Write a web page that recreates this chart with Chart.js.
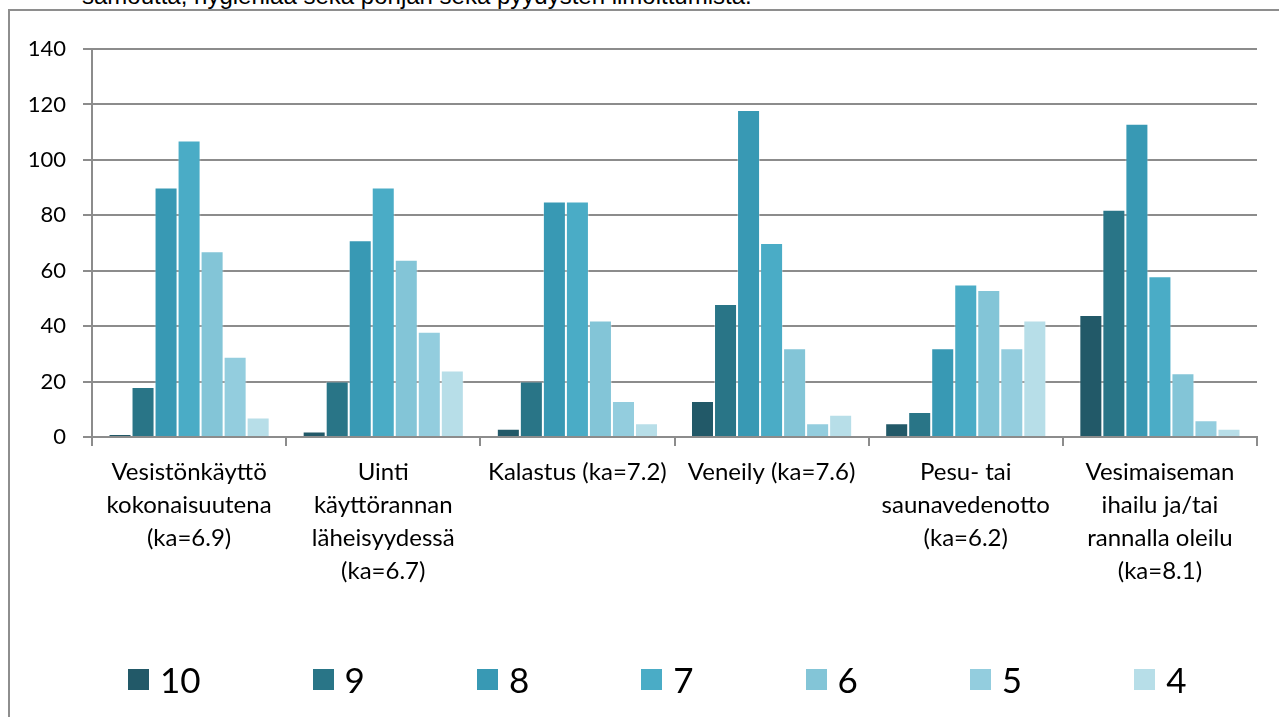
<!DOCTYPE html>
<html>
<head>
<meta charset="utf-8">
<script src="https://cdn.jsdelivr.net/npm/chart.js@4"></script>
<style>
  html, body { margin: 0; padding: 0; background: #fff; overflow: hidden; }
  body { width: 1279px; height: 717px; position: relative; }
  #caption {
    position: absolute; left: 82px; top: -16px;
    font-family: 'Liberation Sans', Arial, sans-serif; font-size: 24px; line-height: 24px;
    color: #000; white-space: nowrap;
  }
  #frame {
    position: absolute; left: 8px; top: 9px;
    width: 1275px; height: 720px;
    border: 2px solid #8e8e8e; background: #fff;
  }
  #chartBox { position: absolute; left: 0; top: 0; width: 1275px; height: 706px; }
  #legend {
    position: absolute; left: 118px; top: 650px; height: 36px;
    display: flex; align-items: center;
    font-family: Lato, sans-serif; font-size: 35px; line-height: 1; color: #000;
  }
  #legend .item { display: flex; align-items: center; margin-right: 112px; }
  #legend .box { width: 21px; height: 21px; margin-right: 11px; }
</style>
</head>
<body>
<div id="caption">samoutta, hygieniaa sekä pohjan sekä pyydysten limoittumista.</div>
<div id="frame">
  <div id="chartBox"><canvas id="gradeChart"></canvas></div>
  <div id="legend"></div>
</div>
<script>
// categories (x axis), each label split into lines like the original
const categories = [
  ['Vesistönkäyttö', 'kokonaisuutena', '(ka=6.9)'],
  ['Uinti', 'käyttörannan', 'läheisyydessä', '(ka=6.7)'],
  ['Kalastus (ka=7.2)'],
  ['Veneily (ka=7.6)'],
  ['Pesu- tai', 'saunavedenotto', '(ka=6.2)'],
  ['Vesimaiseman', 'ihailu ja/tai', 'rannalla oleilu', '(ka=8.1)']
];

// one series per grade
const grades = ['10', '9', '8', '7', '6', '5', '4'];
const grade10 = [1, 2, 3, 13, 5, 44];
const grade9 = [18, 20, 20, 48, 9, 82];
const grade8 = [90, 71, 85, 118, 32, 113];
const grade7 = [107, 90, 85, 70, 55, 58];
const grade6 = [67, 64, 42, 32, 53, 23];
const grade5 = [29, 38, 13, 5, 32, 6];
const grade4 = [7, 24, 5, 8, 42, 3];

const yTicks = [0, 20, 40, 60, 80, 100, 120, 140];

const colors = ['#225968', '#297587', '#3899b4', '#4aacc6', '#83c5d7', '#93cdde', '#b7dee8'];
const seriesValues = [grade10, grade9, grade8, grade7, grade6, grade5, grade4];

const datasets = grades.map(function (g, i) {
  return {
    label: g,
    data: seriesValues[i],
    backgroundColor: colors[i],
    borderColor: 'rgba(255,255,255,0.35)',
    borderWidth: 1,
    categoryPercentage: 0.83,
    barPercentage: 1
  };
});

// html legend under the chart
const legendEl = document.getElementById('legend');
grades.forEach(function (g, i) {
  const item = document.createElement('div');
  item.className = 'item';
  const box = document.createElement('span');
  box.className = 'box';
  box.style.background = colors[i];
  const txt = document.createElement('span');
  txt.textContent = g;
  item.appendChild(box);
  item.appendChild(txt);
  legendEl.appendChild(item);
});

const gridGray = '#8c8c8c';

new Chart(document.getElementById('gradeChart'), {
  type: 'bar',
  data: { labels: categories, datasets: datasets },
  options: {
    responsive: true,
    maintainAspectRatio: false,
    animation: false,
    layout: { padding: { left: 0, right: 28, top: 38, bottom: 110 } },
    plugins: {
      tooltip: { enabled: false },
      legend: { display: false }
    },
    scales: {
      x: {
        grid: {
          display: true,
          drawOnChartArea: false,
          offset: true,
          tickLength: 9,
          color: gridGray,
          lineWidth: 2
        },
        border: { color: gridGray, width: 2 },
        ticks: {
          color: '#000',
          maxRotation: 0,
          autoSkip: false,
          padding: 10,
          font: { family: 'Lato', size: 24, lineHeight: 1.375 }
        },
        afterFit: function (scale) { scale.height = 170; }
      },
      y: {
        min: 0,
        max: 140,
        afterBuildTicks: function (scale) {
          scale.ticks = yTicks.map(function (v) { return { value: v }; });
        },
        grid: { color: gridGray, lineWidth: 2, tickLength: 9 },
        border: { color: gridGray, width: 2 },
        ticks: {
          color: '#000',
          padding: 17,
          font: { family: 'Lato', size: 22 }
        },
        afterFit: function (scale) { scale.width = 82; }
      }
    }
  }
});
</script>
</body>
</html>
